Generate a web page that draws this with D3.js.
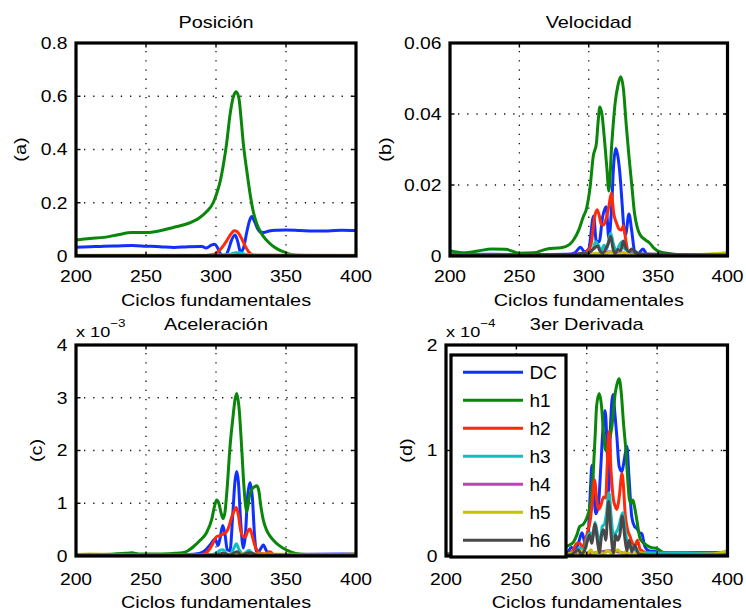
<!DOCTYPE html>
<html>
<head>
<meta charset="utf-8">
<script src="https://cdn.jsdelivr.net/npm/d3@7"></script>
<style>
  body { margin: 0; background: #fff; }
  svg { display: block; }
</style>
</head>
<body>
<svg id="fig" width="746" height="612"></svg>
<script>
// ---- series legend ----
const seriesNames = ["DC", "h1", "h2", "h3", "h4", "h5", "h6"];
const seriesColors = ["#1030ff", "#0a870a", "#ff2a0a", "#10c0c0", "#c040c0", "#c4c400", "#484848"];

// ---- shared x axis ----
const cycleDomain = [200, 400];
const cycleTicks = [200, 250, 300, 350, 400];

// ---- (a) Posición : [cycle, value] ----
const posDC = [[200,0.033],[210,0.035],[220,0.037],[230,0.038],[240,0.039],[250,0.037],[260,0.035],[270,0.032],[280,0.035],[290,0.036],[293,0.030],[297,0.042],[299,0.044],[301,0.032],[303,0.010],[305,0.002],[307,0.004],[309,0.025],[311,0.058],[313.6,0.079],[315.5,0.055],[317.5,0.015],[319.5,0.028],[322,0.090],[323.8,0.130],[325.5,0.148],[327.5,0.130],[329.5,0.105],[331.5,0.090],[334,0.088],[338,0.094],[344,0.097],[350,0.098],[360,0.096],[370,0.094],[380,0.094],[390,0.097],[400,0.096]];
const posH1 = [[200,0.060],[210,0.066],[220,0.070],[230,0.080],[240,0.088],[250,0.088],[260,0.095],[270,0.108],[280,0.122],[288,0.143],[293,0.165],[298,0.200],[300.5,0.235],[303,0.280],[305.5,0.350],[307.6,0.423],[310,0.530],[312.5,0.600],[314.4,0.617],[316.3,0.595],[318,0.510],[319.5,0.423],[322,0.320],[324.3,0.235],[326.5,0.170],[329,0.123],[332,0.088],[336,0.060],[340,0.040],[344,0.026],[348,0.016],[352,0.008],[358,0.003],[370,0.001],[400,0.0005]];
const posH2 = [[200,0.001],[290,0.001],[296,0.004],[300,0.010],[304,0.030],[308,0.060],[311,0.085],[313,0.095],[315,0.092],[317,0.078],[319,0.058],[321,0.036],[323,0.018],[325,0.007],[328,0.002],[335,0.001],[400,0.001]];
const posH3 = [[200,0.002],[305,0.002],[310,0.006],[314,0.012],[317,0.012],[320,0.008],[324,0.003],[330,0.002],[400,0.002]];
const posH4 = [[200,0.002],[300,0.002],[315,0.005],[330,0.003],[400,0.002]];
const posH5 = [[200,0.003],[300,0.003],[316,0.004],[400,0.003]];
const posH6 = [[200,0.001],[310,0.001],[316,0.003],[325,0.001],[400,0.001]];

// ---- (b) Velocidad : [cycle, value] ----
const velDC = [[200,0.0004],[230,0.0005],[260,0.0004],[285,0.0005],[290,0.0009],[294,0.0025],[297,0.0012],[300,0.0020],[303.5,0.0113],[305.5,0.0040],[307.5,0.0040],[310,0.0110],[312.5,0.0139],[314.5,0.0050],[316.5,0.0140],[318,0.0260],[319.5,0.0303],[321,0.0280],[322.5,0.0230],[324,0.0150],[325.3,0.0080],[326.5,0.0060],[329,0.0118],[331,0.0070],[333,0.0015],[336,0.0008],[339,0.0020],[342,0.0005],[360,0.0003],[400,0.0003]];
const velH1 = [[200,0.0015],[210,0.0009],[220,0.0014],[230,0.0020],[240,0.0019],[250,0.0008],[260,0.0009],[270,0.0020],[280,0.0023],[286,0.0032],[289,0.0045],[293,0.0075],[296,0.0110],[298.5,0.0135],[301,0.0195],[303.2,0.0280],[305.5,0.0317],[306.8,0.0380],[308,0.0420],[309.5,0.0400],[311.5,0.0320],[313,0.0250],[314.5,0.0183],[316.5,0.0310],[319,0.0430],[321,0.0480],[323,0.0505],[325,0.0470],[327,0.0370],[329,0.0280],[331,0.0200],[333,0.0120],[335,0.0080],[337,0.0060],[341,0.0045],[344,0.0036],[347,0.0022],[351,0.0012],[360,0.0006],[370,0.0003],[385,0.0002],[400,0.0002]];
const velH2 = [[200,0.0003],[290,0.0004],[296,0.0008],[300,0.0017],[302,0.0040],[304,0.0105],[306,0.0130],[307.5,0.0115],[309,0.0090],[310.5,0.0087],[312.7,0.0107],[314.5,0.0140],[316.3,0.0177],[318,0.0120],[320,0.0093],[322,0.0075],[323.5,0.0073],[325,0.0085],[326.5,0.0050],[328,0.0017],[331,0.0006],[340,0.0003],[400,0.0002]];
const velH3 = [[200,0.0002],[295,0.0003],[300,0.0010],[303,0.0020],[305,0.0040],[307,0.0030],[309,0.0015],[311,0.0030],[313,0.0020],[315.8,0.0064],[318,0.0030],[320,0.0015],[322,0.0030],[324,0.0040],[326,0.0020],[329,0.0015],[333,0.0005],[400,0.0002]];
const velH4 = [[200,0.0003],[305,0.0005],[315,0.0012],[325,0.0006],[400,0.0003]];
const velH5 = [[200,0.0002],[300,0.0003],[305,0.0008],[310,0.0002],[316,0.0012],[320,0.0002],[325,0.0010],[330,0.0003],[380,0.0004],[390,0.0006],[400,0.0010]];
const velH6 = [[200,0.0003],[290,0.0004],[295,0.0008],[298,0.0006],[301,0.0012],[304,0.0022],[306.4,0.0028],[308,0.0015],[310,0.0008],[312,0.0018],[314,0.0035],[315.8,0.0055],[317.5,0.0020],[319,0.0008],[321,0.0018],[323,0.0015],[324.9,0.0042],[327,0.0020],[329,0.0012],[331,0.0020],[334,0.0008],[340,0.0005],[400,0.0003]];

// ---- (c) Aceleración, in units of 1e-3 : [cycle, value] ----
const accDC = [[200,0.03],[250,0.03],[280,0.03],[288,0.05],[292,0.10],[296,0.22],[299.3,0.32],[301.5,0.20],[303,0.35],[304.8,0.58],[306.5,0.40],[308,0.12],[310,0.10],[312,0.80],[313.5,1.40],[314.8,1.60],[316,1.40],[317.5,0.70],[319.5,0.15],[321,0.40],[322.5,1.10],[324.3,1.39],[326,1.10],[327.5,0.40],[329,0.08],[331,0.10],[333.8,0.21],[336,0.10],[339,0.03],[350,0.03],[400,0.04]];
const accH1 = [[200,0.03],[220,0.03],[235,0.05],[240,0.06],[245,0.04],[260,0.04],[270,0.05],[276,0.06],[280,0.10],[284,0.18],[288,0.28],[293,0.43],[297,0.70],[299,0.95],[300.5,1.06],[302,1.00],[304,0.78],[305.2,0.71],[306.5,0.85],[308,1.30],[310,2.07],[312,2.60],[313.5,2.95],[314.8,3.08],[316.5,2.80],[318.3,2.07],[320,1.30],[322,0.84],[324,1.15],[326,1.28],[327.5,1.31],[329,1.33],[330.5,1.25],[332,0.95],[333.8,0.68],[336,0.50],[338,0.40],[341,0.30],[345,0.20],[350.5,0.11],[357,0.05],[365,0.03],[380,0.03],[400,0.03]];
const accH2 = [[200,0.01],[288,0.02],[293,0.06],[297,0.20],[300.5,0.37],[302,0.38],[304,0.40],[306,0.43],[307.6,0.46],[309.5,0.58],[311,0.72],[312.4,0.82],[314.5,0.92],[316,0.78],[317.5,0.50],[319.5,0.37],[321,0.36],[322.5,0.46],[324.3,0.51],[325.5,0.42],[326.7,0.30],[328,0.18],[329.5,0.10],[332,0.05],[335,0.04],[338.6,0.08],[341,0.03],[345,0.01],[400,0.01]];
const accH3 = [[200,0.02],[295,0.02],[300,0.05],[303,0.11],[305,0.12],[307,0.06],[309,0.03],[311,0.06],[313,0.16],[314.5,0.23],[316.5,0.12],[319,0.04],[321,0.06],[323.5,0.11],[325.5,0.06],[328,0.03],[332,0.02],[400,0.02]];
const accH4 = [[200,0.02],[305,0.02],[315,0.04],[325,0.02],[400,0.02]];
const accH5 = [[200,0.03],[210,0.04],[230,0.03],[300,0.02],[315,0.04],[380,0.03],[400,0.04]];
const accH6 = [[200,0.02],[300,0.02],[305,0.05],[310,0.02],[315,0.08],[318,0.02],[324,0.06],[330,0.02],[400,0.02]];

// ---- (d) 3er Derivada, in units of 1e-4 : [cycle, value] ----
const jerkDC = [[200,0.02],[286,0.03],[289,0.08],[292,0.07],[294,0.12],[296.6,0.22],[299,0.12],[301,0.20],[302.5,0.60],[303.7,0.86],[305,0.60],[306.5,0.40],[308.4,0.50],[310,0.85],[311.5,1.20],[313.1,1.38],[314.5,1.00],[315.5,0.60],[316.8,1.20],[318.6,1.53],[320,1.35],[321.4,1.13],[323,0.85],[325,0.80],[326.5,0.90],[328.5,1.04],[330,0.75],[332,0.37],[334,0.28],[335.6,0.26],[337.5,0.22],[339.2,0.21],[341,0.10],[344,0.05],[350,0.04],[360,0.03],[400,0.03]];
const jerkH1 = [[200,0.02],[250,0.02],[280,0.05],[284,0.08],[287,0.10],[290.4,0.13],[293,0.20],[295,0.28],[297.5,0.30],[300,0.36],[302,0.45],[303.5,0.60],[304.6,0.79],[306,1.15],[307,1.42],[308.9,1.54],[310.5,1.42],[312,1.15],[313.5,1.00],[315,1.05],[317.9,1.23],[320.2,1.54],[321.7,1.64],[323,1.68],[324.5,1.55],[326.1,1.26],[327.8,1.00],[329,0.75],[330.4,0.53],[331.6,0.50],[332.8,0.53],[334.2,0.45],[335.6,0.34],[338,0.16],[342.8,0.10],[346,0.08],[350,0.07],[355,0.03],[365,0.02],[380,0.03],[400,0.03]];
const jerkH2 = [[200,0.02],[286,0.02],[290,0.05],[293,0.12],[295,0.12],[297,0.08],[299,0.15],[301,0.25],[302.5,0.34],[304.2,0.55],[305.5,0.72],[307,0.55],[308.4,0.44],[310,0.48],[312,0.56],[313.5,0.55],[314.5,0.85],[315.8,1.18],[317.3,0.80],[319,0.53],[320.3,0.47],[321.4,0.44],[323,0.55],[325,0.78],[326,0.68],[327.3,0.40],[329,0.25],[330.9,0.18],[332.5,0.12],[334.4,0.10],[336,0.15],[338,0.06],[344,0.03],[400,0.02]];
const jerkH3 = [[200,0.02],[288,0.02],[292,0.04],[295,0.08],[298,0.05],[301,0.20],[303,0.22],[304.5,0.18],[305.8,0.32],[307.5,0.22],[309.5,0.12],[311,0.28],[312.5,0.30],[314,0.40],[315.8,0.60],[317.5,0.35],[319,0.18],[320.5,0.22],[322,0.25],[323.5,0.32],[325.5,0.41],[327,0.28],[328.5,0.15],[330,0.12],[332,0.08],[335,0.05],[340,0.03],[400,0.02]];
const jerkH4 = [[200,0.01],[300,0.02],[316,0.05],[325,0.03],[340,0.01],[400,0.01]];
const jerkH5 = [[200,0.01],[285,0.01],[290,0.03],[293,0.00],[296,0.05],[300,0.02],[303,0.06],[305,0.01],[308,0.04],[312,0.02],[315,0.05],[318,0.02],[322,0.06],[325,0.02],[328,0.04],[332,0.01],[336,0.03],[345,0.01],[390,0.02],[400,0.05]];
const jerkH6 = [[200,0.01],[288,0.01],[291,0.03],[294,0.06],[296,0.02],[298,0.04],[300,0.12],[302,0.20],[303.5,0.12],[305.8,0.30],[307.5,0.15],[309,0.03],[310.5,0.20],[312,0.25],[313.5,0.15],[315.5,0.52],[317.3,0.20],[319,0.03],[320.5,0.20],[322,0.15],[323.5,0.20],[325.2,0.38],[327,0.18],[328.5,0.05],[330,0.15],[332,0.04],[334,0.10],[337,0.02],[345,0.01],[400,0.01]];

// ---- y ticks per panel ----
const posTicks = [0, 0.2, 0.4, 0.6, 0.8];
const velTicks = [0, 0.02, 0.04, 0.06];
const accTicks = [0, 1, 2, 3, 4];
const jerkTicks = [0, 1, 2];

// ---- figure layout ----
const FONT = "'Liberation Sans', Arial, Helvetica, sans-serif";
const SX = 1.17; // horizontal widening of axis text
const xLabelText = "Ciclos fundamentales";

const panels = [
  { title: "Posición", tag: "(a)", series: [posDC, posH1, posH2, posH3, posH4, posH5, posH6],
    yTicks: posTicks, fmt: d => d === 0 ? "0" : d3.format(".1f")(d), exp: null,
    box: { l: 76, r: 356, t: 43, b: 256 }, tagX: 20.5, tickBase: 282, labelBase: 305.5, titleBase: 27.5 },
  { title: "Velocidad", tag: "(b)", series: [velDC, velH1, velH2, velH3, velH4, velH5, velH6],
    yTicks: velTicks, fmt: d => d === 0 ? "0" : d3.format(".2f")(d), exp: null,
    box: { l: 450, r: 727.5, t: 43, b: 256 }, tagX: 385.5, tickBase: 282, labelBase: 305.5, titleBase: 27.5 },
  { title: "Aceleración", tag: "(c)", series: [accDC, accH1, accH2, accH3, accH4, accH5, accH6],
    yTicks: accTicks, fmt: d => String(d), exp: "−3",
    box: { l: 76, r: 356, t: 345, b: 556 }, tagX: 36.5, tickBase: 585, labelBase: 607.5, titleBase: 330 },
  { title: "3er Derivada", tag: "(d)", series: [jerkDC, jerkH1, jerkH2, jerkH3, jerkH4, jerkH5, jerkH6],
    yTicks: jerkTicks, fmt: d => String(d), exp: "−4", legend: true,
    box: { l: 446, r: 727.5, t: 345, b: 556 }, tagX: 406, tickBase: 585, labelBase: 607.5, titleBase: 330 }
];

const svg = d3.select("#fig");

function label(g, x, y, str, opt = {}) {
  const size = opt.size || 17;
  const rot = opt.rotate || 0;
  const sx = opt.sx === undefined ? SX : opt.sx;
  return g.append("text")
    .attr("transform", `translate(${x},${y}) rotate(${rot}) scale(${sx},1)`)
    .attr("text-anchor", opt.anchor || "middle")
    .attr("dy", opt.dy || null)
    .attr("font-family", FONT)
    .attr("font-size", size)
    .attr("fill", "#000")
    .text(str);
}

panels.forEach((p, pi) => {
  const { l, r, t, b } = p.box;
  const x = d3.scaleLinear().domain(cycleDomain).range([l, r]);
  const y = d3.scaleLinear().domain([p.yTicks[0], p.yTicks[p.yTicks.length - 1]]).range([b, t]);
  const g = svg.append("g");

  // dotted grid
  const grid = g.append("g").attr("stroke", "#111").attr("stroke-width", 1.3)
    .attr("stroke-dasharray", "1.3,7.9").attr("fill", "none");
  cycleTicks.slice(1, -1).forEach(c => {
    grid.append("line").attr("x1", x(c)).attr("x2", x(c)).attr("y1", t + 8).attr("y2", b);
  });
  p.yTicks.slice(1, -1).forEach(v => {
    grid.append("line").attr("x1", l + 8).attr("x2", r).attr("y1", y(v)).attr("y2", y(v));
  });

  // curves
  const clipId = "clip" + pi;
  svg.append("clipPath").attr("id", clipId).append("rect")
    .attr("x", l).attr("y", t).attr("width", r - l).attr("height", b - t);
  const line = d3.line().x(d => x(d[0])).y(d => y(d[1])).curve(d3.curveMonotoneX);
  const curves = g.append("g").attr("clip-path", `url(#${clipId})`);
  p.series.forEach((s, i) => {
    curves.append("path").datum(s).attr("d", line)
      .attr("fill", "none").attr("stroke", seriesColors[i])
      .attr("stroke-width", 3).attr("stroke-linejoin", "round").attr("stroke-linecap", "round");
  });

  // inward ticks on all four sides
  const ticks = g.append("g").attr("stroke", "#000").attr("stroke-width", 1.4);
  cycleTicks.forEach(c => {
    ticks.append("line").attr("x1", x(c)).attr("x2", x(c)).attr("y1", b).attr("y2", b - 4.5);
    ticks.append("line").attr("x1", x(c)).attr("x2", x(c)).attr("y1", t).attr("y2", t + 4.5);
  });
  p.yTicks.forEach(v => {
    ticks.append("line").attr("x1", l).attr("x2", l + 4.5).attr("y1", y(v)).attr("y2", y(v));
    ticks.append("line").attr("x1", r).attr("x2", r - 4.5).attr("y1", y(v)).attr("y2", y(v));
  });

  // frame
  g.append("rect").attr("x", l).attr("y", t).attr("width", r - l).attr("height", b - t)
    .attr("fill", "none").attr("stroke", "#000").attr("stroke-width", 3.2);

  // tick labels
  cycleTicks.forEach(c => label(g, x(c), p.tickBase, String(c), { size: 16.5 }));
  p.yTicks.forEach(v => label(g, l - 8.5, y(v), p.fmt(v), { size: 16.5, anchor: "end", dy: "0.36em" }));

  // titles and axis labels
  label(g, (l + r) / 2, p.titleBase, p.title, { size: 17 });
  label(g, (l + r) / 2, p.labelBase, xLabelText, { size: 17 });
  label(g, p.tagX, (t + b) / 2, p.tag, { size: 17, rotate: -90, dy: "0.35em" });

  // exponent note
  if (p.exp) {
    const ex = g.append("text")
      .attr("transform", `translate(${l},${t - 8.5}) scale(${SX},1)`)
      .attr("font-family", FONT).attr("font-size", 15.5).attr("fill", "#000");
    ex.append("tspan").text("x 10");
    ex.append("tspan").attr("font-size", 11.5).attr("dy", -9.5).text(p.exp);
  }

  // legend
  if (p.legend) {
    const lg = g.append("g");
    lg.append("rect").attr("x", 451).attr("y", 355).attr("width", 115).attr("height", 202)
      .attr("fill", "#fff").attr("stroke", "#000").attr("stroke-width", 3.2);
    seriesNames.forEach((name, i) => {
      const yy = 372.3 + i * 28;
      lg.append("line").attr("x1", 463).attr("x2", 523).attr("y1", yy).attr("y2", yy)
        .attr("stroke", seriesColors[i]).attr("stroke-width", 3);
      label(lg, 529.5, yy + 6.5, name, { size: 18.5, anchor: "start", sx: 1.03 });
    });
  }
});
</script>
</body>
</html>
